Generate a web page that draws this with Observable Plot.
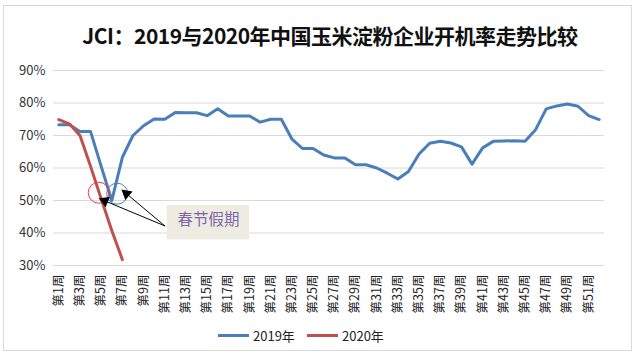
<!DOCTYPE html>
<html>
<head>
<meta charset="utf-8">
<script src="https://cdn.jsdelivr.net/npm/d3@7"></script>
<script src="https://cdn.jsdelivr.net/npm/@observablehq/plot@0.6"></script>
<style>
  html, body { margin: 0; padding: 0; background: #fff; }
  #wrap { position: relative; width: 637px; height: 356px; overflow: hidden; font-family: "Noto Sans CJK SC", "Noto Sans", sans-serif; }
  #frame { position: absolute; left: 3px; top: 5px; width: 629px; height: 346px; border: 1px solid #D9D9D9; box-sizing: border-box; }
  #title { position: absolute; left: 0; width: 660px; top: 20px; text-align: center; font-size: 21px; font-weight: bold; color: #111; letter-spacing: -0.5px; }
  .leg { position: absolute; top: 326px; font-size: 13px; color: #222; display: flex; align-items: center; }
  .leg span.sw { display: inline-block; width: 31px; height: 3px; margin-right: 4px; }
  svg { position: absolute; left: 0; top: 0; }
</style>
</head>
<body>
<div id="wrap">
  <div id="frame"></div>
  <div id="title">JCI：2019与2020年中国玉米淀粉企业开机率走势比较</div>
  <div class="leg" style="left:218px"><span class="sw" style="background:#4A7EBB"></span>2019年</div>
  <div class="leg" style="left:307px"><span class="sw" style="background:#C0504D"></span>2020年</div>
</div>
<script>
const weeks = [1,2,3,4,5,6,7,8,9,10,11,12,13,14,15,16,17,18,19,20,21,22,23,24,25,26,27,28,29,30,31,32,33,34,35,36,37,38,39,40,41,42,43,44,45,46,47,48,49,50,51,52];
const rate2019 = [73.3,73.3,71.2,71.2,60.5,50,63.3,70,73,75.1,75,77.1,77,77,76.1,78.2,76,76,76,74.1,75,75,68.9,66,66,64,63.1,63.1,61,61,60,58.4,56.6,58.9,64.3,67.6,68.2,67.7,66.5,61.2,66.2,68.2,68.3,68.4,68.2,71.8,78.2,79.1,79.7,79,76.1,74.9];
const weeks2020 = [1,2,3,4,5,6,7];
const rate2020 = [74.9,73.6,70,60.5,50.5,40.8,31.8];
const tickWeeks = [1,3,5,7,9,11,13,15,17,19,21,23,25,27,29,31,33,35,37,39,41,43,45,47,49,51];
const yTicks = [30,40,50,60,70,80,90];
const seriesNames = ["2019年", "2020年"];
const noteText = "春节假期";
// annotation anchors (data coordinates: week, %)
const circles = [{w: 4.77, v: 52.4, c: "#FF3333"}, {w: 6.51, v: 52.1, c: "#4A7EBB"}];
const arrows = [{w1: 11.0, v1: 42.2, w2: 5.03, v2: 50.3}, {w1: 11.0, v1: 42.2, w2: 7.13, v2: 52.8}];
const noteBox = {w1: 11.23, w2: 19.02, v1: 37.9, v2: 48.46};

const d2019 = weeks.map((w, i) => ({week: w, value: rate2019[i]}));
const d2020 = weeks2020.map((w, i) => ({week: w, value: rate2020[i]}));

const base = {
  width: 637,
  height: 356,
  marginLeft: 53,
  marginRight: 33,
  marginTop: 70,
  marginBottom: 91,
  style: {fontFamily: '"Noto Sans CJK SC", "Noto Sans", sans-serif', background: "transparent", overflow: "visible"},
  x: {type: "linear", domain: [0.5, 52.5]},
  y: {domain: [30, 90]}
};
// first pass to obtain the scales for arrow-head orientation
const probe = Plot.plot({...base, marks: [Plot.ruleY(yTicks)]});
const sx = probe.scale("x"), sy = probe.scale("y");
const heads = arrows.map(a => {
  const dx = sx.apply(a.w2) - sx.apply(a.w1), dy = sy.apply(a.v2) - sy.apply(a.v1);
  const L = Math.hypot(dx, dy);
  const back = 3.5; // center of triangle slightly behind the tip
  return {x: a.w2, y: a.v2, angle: Math.atan2(dx, -dy) * 180 / Math.PI,
          ox: -dx / L * back, oy: -dy / L * back};
});

const chart = Plot.plot({
  ...base,
  marks: [
    Plot.ruleY(yTicks, {stroke: "#D9D9D9", strokeWidth: 1}),
    Plot.axisY({ticks: yTicks, tickSize: 0, tickPadding: 8, tickFormat: d => d + "%", fontSize: 13, fill: "#333"}),
    Plot.axisX({ticks: tickWeeks, tickSize: 0, tickPadding: 9, tickRotate: -90, tickFormat: d => "第" + d + "周", fontSize: 12.5, fill: "#222"}),
    Plot.line(d2019, {x: "week", y: "value", stroke: "#4A7EBB", strokeWidth: 3, strokeLinejoin: "round"}),
    Plot.line(d2020, {x: "week", y: "value", stroke: "#C0504D", strokeWidth: 3, strokeLinejoin: "round"}),
    Plot.dot(circles, {x: "w", y: "v", r: 10.5, stroke: "c", fill: "none", strokeWidth: 1}),
    Plot.rect([noteBox], {x1: "w1", x2: "w2", y1: "v1", y2: "v2", fill: "#EEECE1"}),
    Plot.text([noteBox], {x: d => (d.w1 + d.w2) / 2, y: d => (d.v1 + d.v2) / 2, text: () => noteText, fill: "#7F66A8", fontSize: 15.5, dy: -3}),
    Plot.arrow(arrows, {x1: "w1", y1: "v1", x2: "w2", y2: "v2", stroke: "#000", strokeWidth: 1, headLength: 0, bend: false}),
    ...heads.map(h => Plot.dot([h], {x: "x", y: "y", dx: h.ox, dy: h.oy, symbol: "triangle", r: 4.2, rotate: h.angle, fill: "#000", stroke: "none"}))
  ]
});
document.getElementById("wrap").appendChild(chart);
</script>
</body>
</html>
